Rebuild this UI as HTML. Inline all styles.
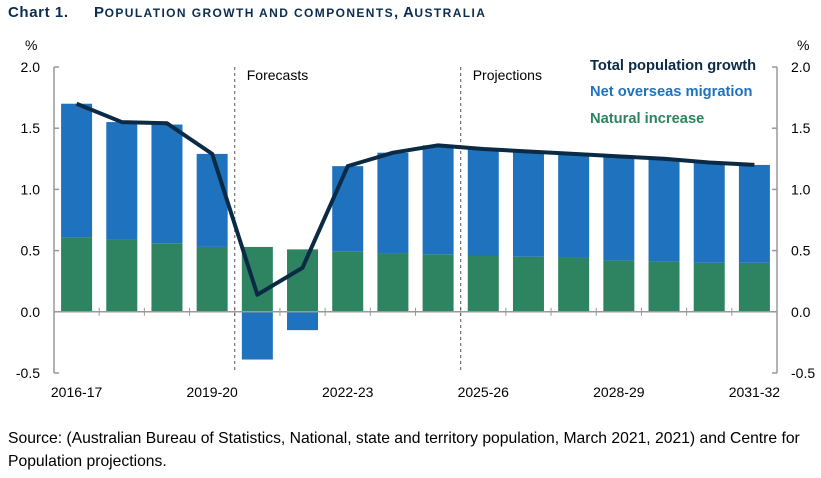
<!DOCTYPE html>
<html><head><meta charset="utf-8"><style>
body{margin:0;background:#fff;width:821px;height:473px;overflow:hidden;font-family:"Liberation Sans",sans-serif}
svg text{font-family:"Liberation Sans",sans-serif}
</style></head><body>
<svg width="821" height="473">
<text x="8" y="17" font-size="15" font-weight="bold" fill="#0b2e4f" letter-spacing="0.6">Chart 1.<tspan x="94">P</tspan><tspan font-size="12" letter-spacing="1.4">OPULATION GROWTH AND COMPONENTS</tspan>, A<tspan font-size="12" letter-spacing="1.4">USTRALIA</tspan></text>
<g id="plot"></g>
<text x="8" y="443" font-size="15.7" fill="#000">Source: (Australian Bureau of Statistics, National, state and territory population, March 2021, 2021) and Centre for</text>
<text x="8" y="466" font-size="15.7" fill="#000">Population projections.</text>
</svg>
<script>
const categories=["2016-17","2017-18","2018-19","2019-20","2020-21","2021-22","2022-23","2023-24","2024-25","2025-26","2026-27","2027-28","2028-29","2029-30","2030-31","2031-32"];
const naturalIncrease=[0.61,0.59,0.56,0.53,0.53,0.51,0.49,0.48,0.47,0.46,0.45,0.44,0.42,0.41,0.40,0.40];
const netOverseas=[1.09,0.96,0.97,0.76,-0.39,-0.15,0.70,0.82,0.89,0.87,0.86,0.85,0.85,0.84,0.82,0.80];
const totalGrowth=[1.70,1.55,1.54,1.29,0.14,0.36,1.19,1.30,1.36,1.33,1.31,1.29,1.27,1.25,1.22,1.20];
const yTicks=[2.0,1.5,1.0,0.5,0.0,-0.5];
const xLabelIdx=[0,3,6,9,12,15];
const NS="http://www.w3.org/2000/svg";
const g=document.getElementById('plot');
const L=54,R=777,T=67,B=373,ymax=2,ymin=-0.5;
const bw=(R-L)/categories.length;
const y=v=>T+(ymax-v)/(ymax-ymin)*(B-T);
const xc=i=>L+bw*(i+0.5);
function mk(t,a){const e=document.createElementNS(NS,t);for(const k in a)e.setAttribute(k,a[k]);g.appendChild(e);return e;}
categories.forEach((c,i)=>{
 const w=31,x0=xc(i)-w/2;
 const ni=naturalIncrease[i],nom=netOverseas[i];
 let r=mk('rect',{x:x0,y:y(ni),width:w,height:y(0)-y(ni),fill:'#2e8360'});
 
 
 let top=nom>=0?y(ni+nom):y(0), h=nom>=0?y(ni)-y(ni+nom):y(nom)-y(0);
 let r2=mk('rect',{x:x0,y:top,width:w,height:h,fill:'#1f72bd'});
 
 
});
let z=mk('line',{x1:L,x2:R,y1:y(0),y2:y(0),stroke:'#999','stroke-width':1.5});


for(let i=1;i<categories.length;i++){mk('line',{x1:L+bw*i,x2:L+bw*i,y1:y(0)-4,y2:y(0)+4,stroke:'#999'});}
[[L,1],[R,-1]].forEach(([ax,d],k)=>{
 const a=mk('line',{x1:ax,x2:ax,y1:T,y2:B,stroke:'#999','stroke-width':1.5});
 
 
 yTicks.forEach(v=>{
  mk('line',{x1:ax,x2:ax+5*d,y1:y(v),y2:y(v),stroke:'#999','stroke-width':1.5});
  const t=mk('text',{x:k?R+14:40,y:y(v)+5,'font-size':14,'text-anchor':k?'start':'end',fill:'#000'});
  t.textContent=v.toFixed(1);
  
  
 });
 const u=mk('text',{x:k?R+20:25,y:50,'font-size':14,fill:'#000'});u.textContent='%';
 
 
});
xLabelIdx.forEach(i=>{
 const t=mk('text',{x:xc(i),y:397,'font-size':14,'text-anchor':'middle',fill:'#000'});
 t.textContent=categories[i];
 
 
});
[4,9].forEach((i,k)=>{
 const l=mk('line',{x1:L+bw*i,x2:L+bw*i,y1:T,y2:B,stroke:'#555','stroke-dasharray':'3,3'});
 
 
 const t=mk('text',{x:L+bw*i+12,y:80,'font-size':14,fill:'#000'});
 t.textContent=k?'Projections':'Forecasts';
 
 
});
const p=mk('polyline',{points:totalGrowth.map((v,i)=>xc(i)+','+y(v)).join(' '),fill:'none',stroke:'#0b2a45','stroke-width':4,'stroke-linejoin':'round'});


[['Total population growth','#0b2a45',70],['Net overseas migration','#1f72bd',96],['Natural increase','#2e8360',123]].forEach(([s,c,yy])=>{
 const t=mk('text',{x:590,y:yy,'font-size':14.7,'font-weight':'bold',fill:c});
 t.textContent=s;
 
 
});
</script>
</body></html>
